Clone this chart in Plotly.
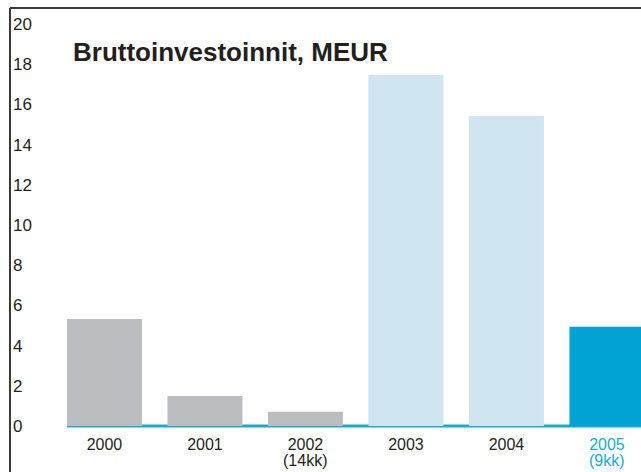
import plotly.graph_objects as go

years = ["2000", "2001", "2002", "2003", "2004", "2005"]
tick_labels = ["2000", "2001", "2002", "2003", "2004",
               "<span style='color:#1BA9DA'>2005</span>"]
sub_labels = ["", "", "(14kk)", "", "", "(9kk)"]
sub_colors = ["#231F20", "#231F20", "#231F20", "#231F20", "#231F20", "#1BA9DA"]
values = [5.32, 1.49, 0.70, 17.46, 15.42, 4.93]
colors = ["#BCBDC1", "#BCBDC1", "#BCBDC1", "#CFE5F1", "#CFE5F1", "#00A3D3"]
y_ticks = list(range(0, 21, 2))
title_text = "Bruttoinvestoinnit, MEUR"

W, H = 641, 472
Y0, Y1 = -0.9, 20.8
L, R, T = 10, 0, 8
B = int(round(472 - (426 + (-Y0) * 20.1)))
plot_h = H - T - B

fig = go.Figure(go.Bar(x=list(range(len(years))), y=values,
                       marker=dict(color=colors, line=dict(width=0)),
                       hoverinfo="skip"))

fig.update_layout(
    width=W, height=H,
    margin=dict(l=L, r=R, t=T, b=B, autoexpand=False),
    paper_bgcolor="white", plot_bgcolor="white",
    bargap=0.254,
    showlegend=False,
    font=dict(family="Liberation Sans, Arial, sans-serif", color="#231F20"),
)
fig.update_xaxes(
    range=[-0.94, 5.339], automargin=False,
    tickvals=list(range(len(years))), ticktext=tick_labels,
    showgrid=False, zeroline=False, showline=False, ticks="",
    tickfont=dict(size=16, color="#231F20"),
    ticklabelstandoff=-11,
)
fig.update_yaxes(
    range=[Y0, Y1], automargin=False,
    tickvals=y_ticks, ticktext=[str(v) for v in y_ticks],
    showgrid=False, zeroline=False, showline=False, ticks="",
    ticklabelposition="inside",
    tickfont=dict(size=17, color="#231F20"),
)

# baseline
fig.add_shape(type="line", xref="x", yref="y", x0=-0.373, x1=5.339, y0=0, y1=0,
              line=dict(color="#1BA9DA", width=3), layer="below")
# frame
fig.add_shape(type="line", xref="paper", yref="paper", x0=0, x1=0,
              y0=-B / plot_h, y1=1, line=dict(color="#3A3A3A", width=2))
fig.add_shape(type="line", xref="paper", yref="paper", x0=0, x1=1,
              y0=1, y1=1, line=dict(color="#3A3A3A", width=2))

# second-line sub labels under categories
for i, (txt, col) in enumerate(zip(sub_labels, sub_colors)):
    if txt:
        fig.add_annotation(
            text=txt, xref="x", yref="paper", x=i,
            y=1 - (461 - T) / plot_h, xanchor="center", yanchor="middle",
            showarrow=False, font=dict(size=16, color=col),
        )

fig.add_annotation(
    text=title_text, xref="paper", yref="paper",
    x=(71 - L) / (W - L - R), y=1 - (52 - T) / plot_h,
    xanchor="left", yanchor="middle", showarrow=False,
    font=dict(size=26, color="#231F20", family="Liberation Sans, Arial, sans-serif",
              weight="bold"),
)

fig.write_html("out.html", config={"displayModeBar": False},
               post_script="document.body.style.margin='0';")
